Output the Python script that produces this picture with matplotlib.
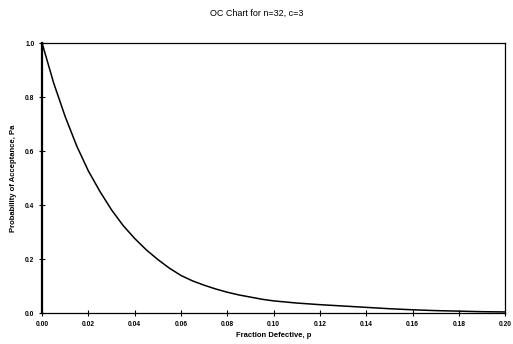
import matplotlib
matplotlib.use("Agg")
import matplotlib.pyplot as plt

plt.rcParams['font.family'] = ['Liberation Sans', 'DejaVu Sans']

# Fraction defective and probability of acceptance
p_values = [0.000, 0.005, 0.010, 0.015, 0.020, 0.025, 0.030, 0.035, 0.040, 0.045,
            0.050, 0.055, 0.060, 0.065, 0.070, 0.075, 0.080, 0.085, 0.090, 0.095,
            0.100, 0.110, 0.120, 0.130, 0.140, 0.150, 0.160, 0.170, 0.180, 0.190,
            0.200]
pa_values = [1.000, 0.852, 0.727, 0.618, 0.526, 0.450, 0.382, 0.324, 0.276, 0.234,
             0.198, 0.166, 0.139, 0.119, 0.103, 0.089, 0.077, 0.067, 0.059, 0.051,
             0.045, 0.037, 0.031, 0.026, 0.021, 0.016, 0.012, 0.009, 0.007, 0.005,
             0.004]

x_ticks = [0.00, 0.02, 0.04, 0.06, 0.08, 0.10, 0.12, 0.14, 0.16, 0.18, 0.20]
y_ticks = [0.0, 0.2, 0.4, 0.6, 0.8, 1.0]

fig = plt.figure(figsize=(5.13, 3.44), dpi=100)
ax = fig.add_axes([0.082, 0.090, 0.903, 0.785])

ax.plot(p_values, pa_values, color='black', linewidth=1.1, solid_joinstyle='round')

ax.set_xlim(0, 0.20)
ax.set_ylim(0, 1.0)
ax.set_xticks(x_ticks)
ax.set_xticklabels([f"{t:.2f}" for t in x_ticks])
ax.set_yticks(y_ticks)
ax.set_yticklabels([f"{t:.1f}" for t in y_ticks])
ax.tick_params(axis='both', labelsize=4.8, direction='inout', length=4, width=0.8)
for lbl in ax.get_xticklabels() + ax.get_yticklabels():
    lbl.set_fontweight('bold')

for side in ['top', 'right', 'bottom']:
    ax.spines[side].set_linewidth(0.9)
ax.spines['left'].set_linewidth(1.6)

ax.set_xlabel("Fraction Defective, p", fontsize=5.5, fontweight='bold', labelpad=3)
ax.set_ylabel("Probability of Acceptance, Pa", fontsize=5.5, fontweight='bold', labelpad=6)
fig.suptitle("OC Chart for n=32, c=3", fontsize=6.5, y=0.975)

fig.savefig("out.png", dpi=100, facecolor='white')
